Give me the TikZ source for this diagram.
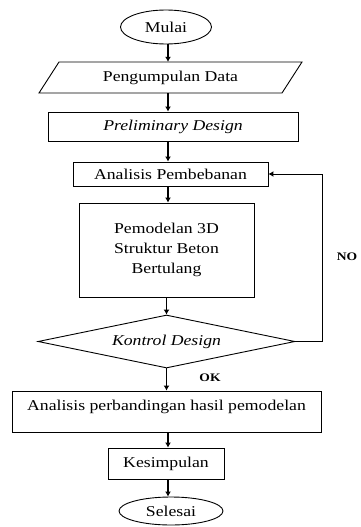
\documentclass[tikz,border=0pt]{standalone}
\usepackage{fontspec}
\setmainfont{Liberation Serif}[FakeStretch=1.18]
\usetikzlibrary{shapes.geometric,arrows.meta}
\begin{document}
\begin{tikzpicture}[x=1pt,y=-1pt,
  every node/.style={font=\fontsize{15}{20}\selectfont, inner sep=0pt},
  box/.style={draw, line width=0.9pt, rectangle, align=center},
  oval/.style={draw, line width=0.9pt, ellipse},
  arr/.style={line width=1.6pt, -{Latex[length=5pt,width=6pt]}},
  back/.style={line width=1pt, -{Latex[length=5pt,width=6pt]}},
  lab/.style={font=\fontsize{11.5}{13}\selectfont\bfseries}]
\useasboundingbox (0,0) rectangle (360,527);
\node[oval, minimum width=91pt, minimum height=34pt] (mulai) at (166,27) {Mulai};
\node[minimum width=223pt, minimum height=31pt] (data) at (170.5,77.5) {Pengumpulan Data};
\draw[line width=0.9pt] (39,93) -- (282,93) -- (302,62) -- (59,62) -- cycle;
\node[box, minimum width=250pt, minimum height=29pt] (prelim) at (173,126.5) {\itshape Preliminary Design};
\node[box, minimum width=195pt, minimum height=24pt] (beban) at (170.5,174) {Analisis Pembebanan};
\node[box, minimum width=175pt, minimum height=94pt] (model) at (166.5,250) {Pemodelan 3D\\Struktur Beton\\Bertulang};
\node[draw, line width=0.9pt, diamond, aspect=4.85, minimum width=257pt, minimum height=53pt] (kontrol) at (166.5,341.5) {\itshape Kontrol Design};
\node[box, minimum width=309pt, minimum height=41pt, text depth=12pt] (banding) at (166.5,411.5) {Analisis perbandingan hasil pemodelan};
\node[box, minimum width=116pt, minimum height=31pt] (simpul) at (166,463.5) {Kesimpulan};
\node[oval, minimum width=104pt, minimum height=28pt] (selesai) at (171,511) {Selesai};
\node[lab] (no) at (347,257) {NO};
\node[lab] (ok) at (210,378) {OK};
\coordinate (ax) at (168,0);
\draw[arr] (mulai.south -| ax) -- (data.north -| ax);
\draw[arr] (data.south -| ax) -- (prelim.north -| ax);
\draw[arr] (prelim.south -| ax) -- (beban.north -| ax);
\draw[arr] (beban.south -| ax) -- (model.north -| ax);
\draw[arr] (model.south -| kontrol.north) -- (kontrol.north);
\draw[arr] (kontrol.south) -- (kontrol.south |- banding.north);
\draw[arr] (banding.south -| ax) -- (simpul.north -| ax);
\draw[arr] (simpul.south -| ax) -- (selesai.north -| ax);
\coordinate (r) at (322,0);
\draw[back] (kontrol.east) -- (kontrol.east -| r) -- (beban.east -| r) -- (beban.east);
\end{tikzpicture}
\end{document}
